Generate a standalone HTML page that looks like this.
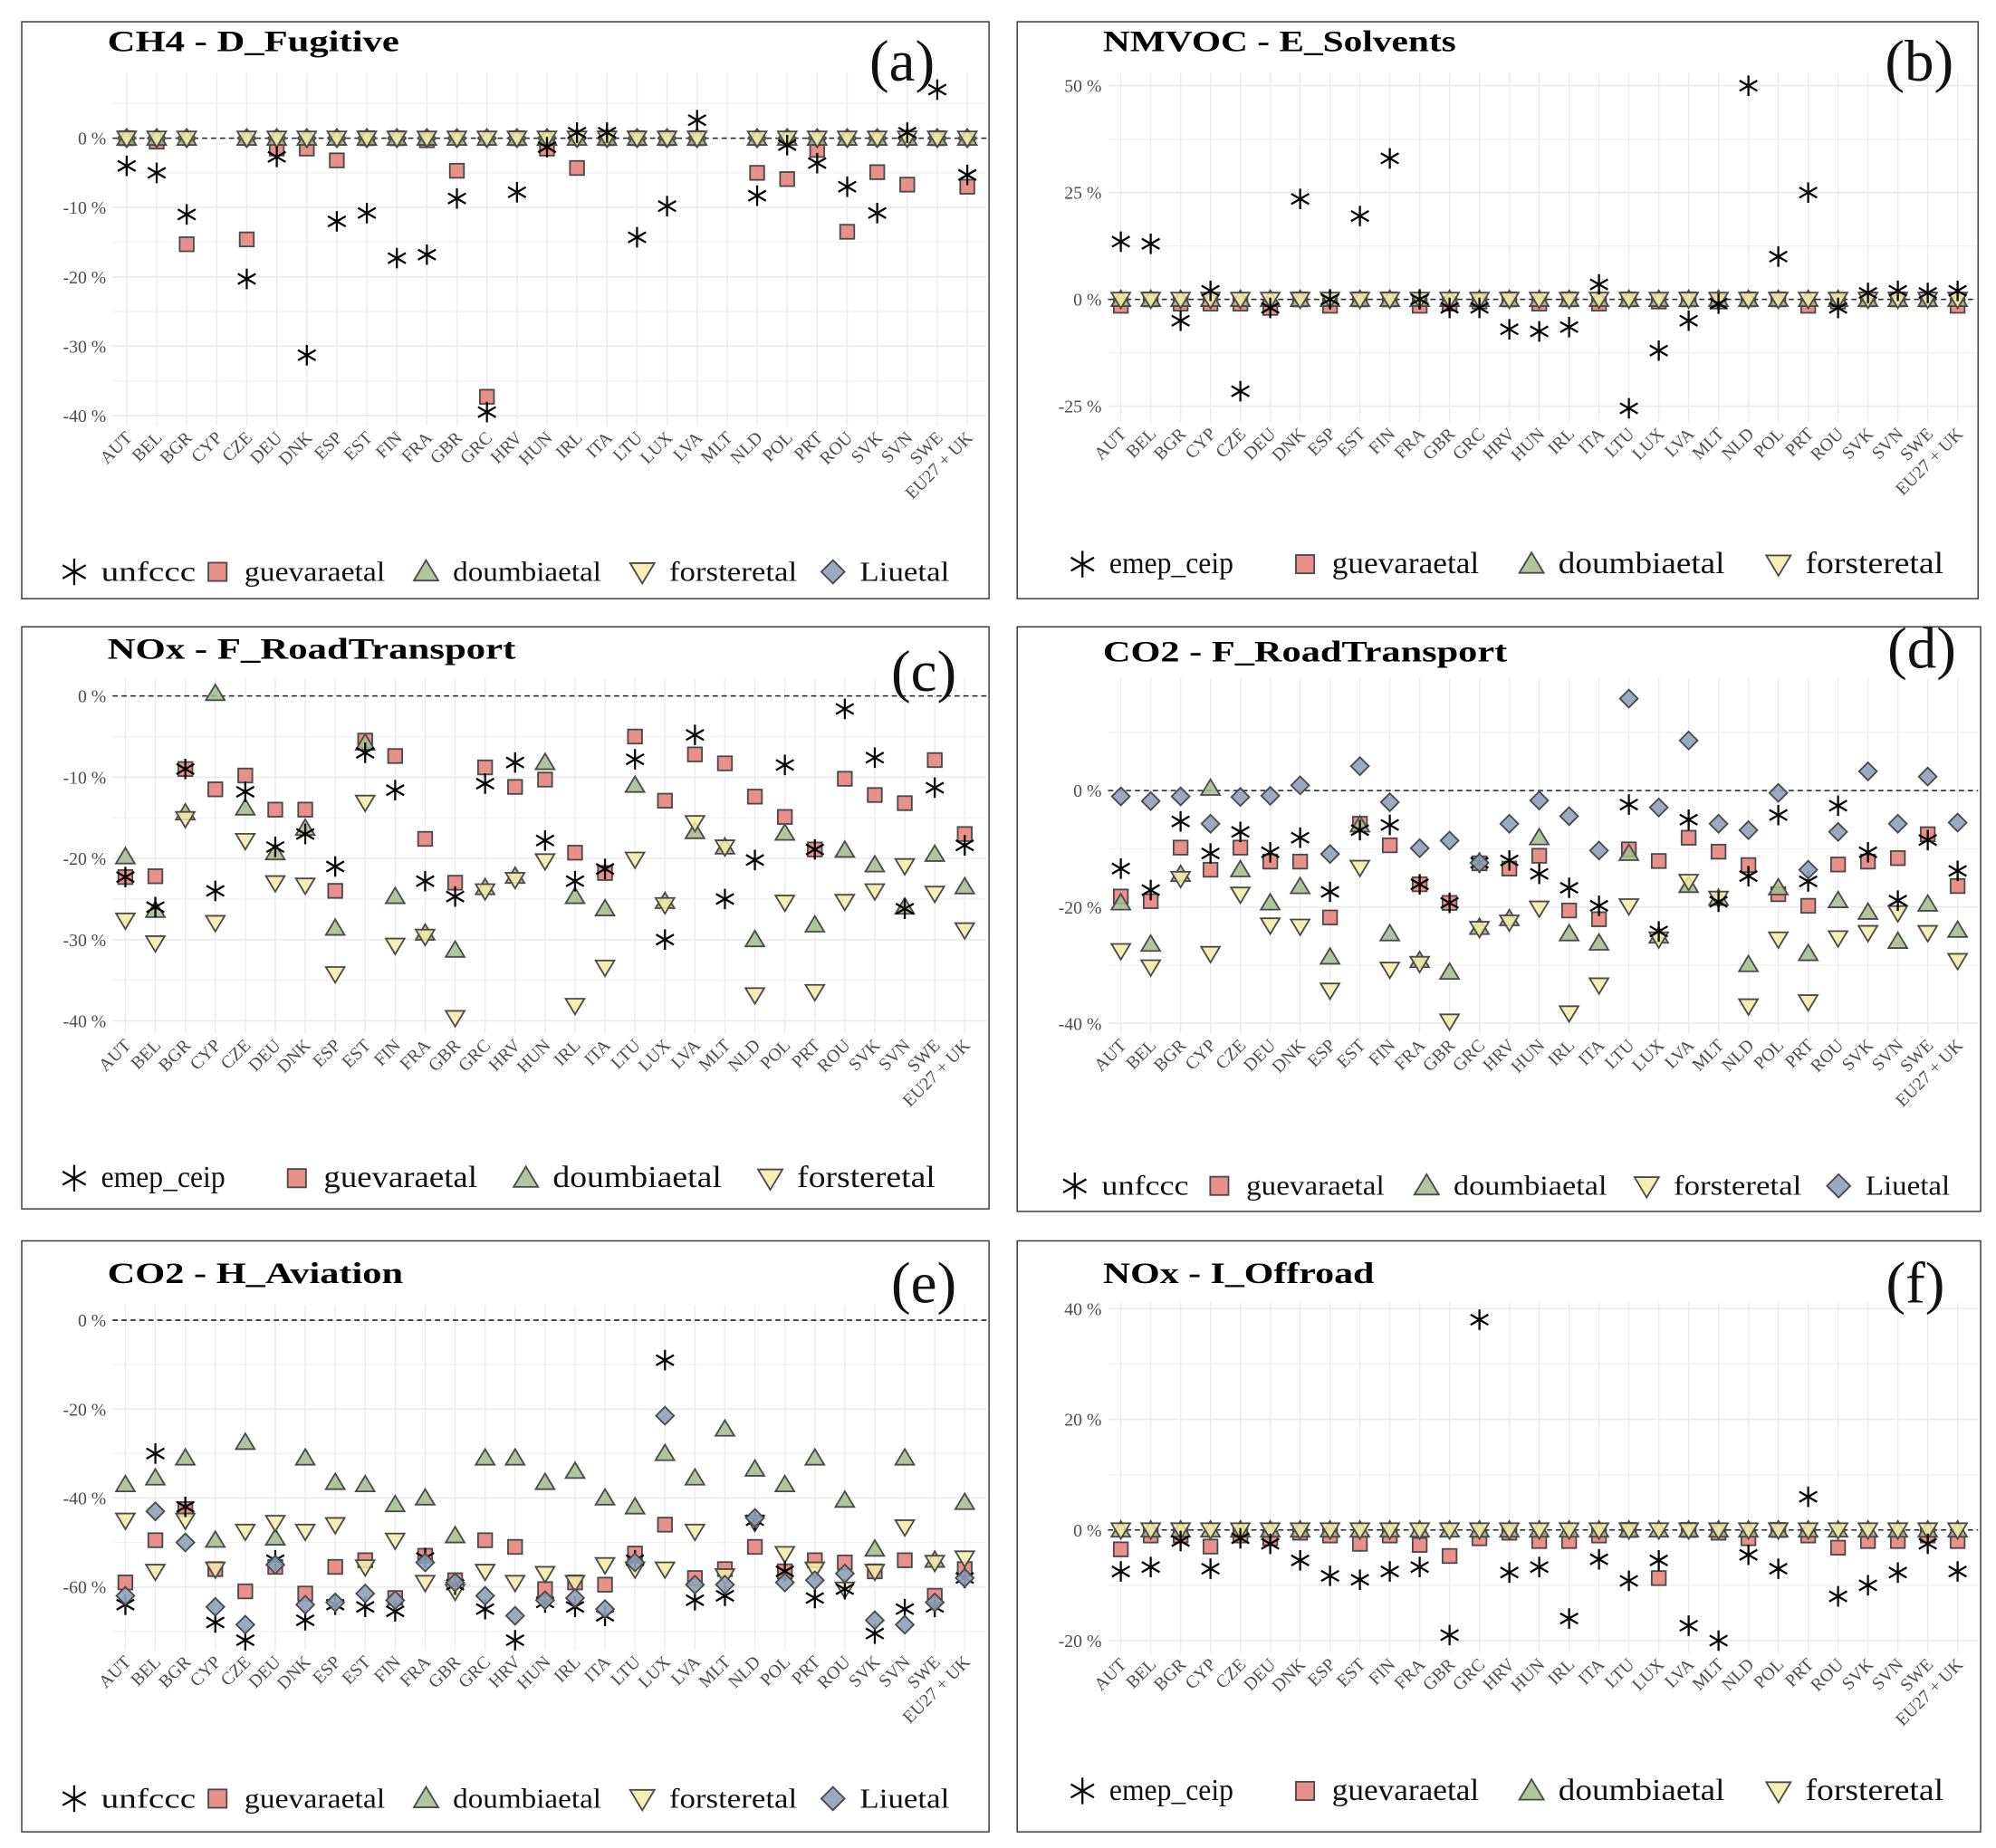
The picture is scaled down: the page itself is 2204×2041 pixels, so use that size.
<!DOCTYPE html>
<html><head><meta charset="utf-8"><style>
html,body{margin:0;padding:0;background:#fff;}
svg{display:block;}
text{font-family:"Liberation Serif",serif;}
</style></head>
<body>
<svg id="chart" xmlns="http://www.w3.org/2000/svg" width="2204" height="2041" viewBox="0 0 1560 1444.6">
<rect x="0" y="0" width="1560" height="1444.6" fill="#fff"/>
</svg>
<script>
const categories = ["AUT","BEL","BGR","CYP","CZE","DEU","DNK","ESP","EST","FIN","FRA","GBR","GRC","HRV","HUN","IRL","ITA","LTU","LUX","LVA","MLT","NLD","POL","PRT","ROU","SVK","SVN","SWE","EU27 + UK"];
const N = null;
// Panel (a) CH4 - D_Fugitive
const aStar = [-4,-5,-11,N,-20.3,-2.7,-31.3,-12,-10.8,-17.3,-16.8,-8.7,-39.5,-7.8,-1.3,0.8,0.8,-14.3,-9.8,2.6,N,-8.3,-1,-3.6,-7,-10.8,0.8,7,-5.3];
const aGuevara = [0,-0.5,-15.3,N,-14.6,-1.5,-1.5,-3.2,0,0,-0.3,-4.7,-37.3,0,-1.5,-4.3,0,0,0,0,N,-5,-5.9,-1.7,-13.5,-4.9,-6.7,0,-7];
const aDoumbia = [0,0,0,N,0,0,0,0,0,0,0,0,0,0,0,0,0,0,0,0,N,0,0,0,0,0,0,0,0];
const aForster = [0,0,0,N,0,0,0,0,0,0,0,0,0,0,0,0,0,0,0,0,N,0,0,0,0,0,0,0,0];
const aLiu = [0,0,0,N,0,0,0,0,0,0,0,0,0,0,0,0,0,0,0,0,N,0,0,0,0,0,0,0,0];
const aTicks = [0,-10,-20,-30,-40];
// Panel (b) NMVOC - E_Solvents
const bStar = [13.5,13,-5,2,-21.5,-2,23.5,0,19.5,33,0,-2,-2,-7,-7.5,-6.5,3.5,-25.5,-12,-5,-1,50,10,25,-2,1.5,2,1.5,2];
const bGuevara = [-1.5,0,-1,-1,-1,-2,0,-1.5,0,0,-1.5,-1,-0.5,0,-1,0,-1,0,-0.5,0,-0.5,0,0,-1.5,-0.5,0,0,0,-1.5];
const bDoumbia = [0,0,0,0,0,0,0,0,0,0,0,0,0,0,0,0,0,0,0,0,0,0,0,0,0,0,0,0,0];
const bForster = [0,0,0,0,0,0,0,0,0,0,0,0,0,0,0,0,0,0,0,0,0,0,0,0,0,0,0,0,0];
const bTicks = [50,25,0,-25];
// Panel (c) NOx - F_RoadTransport
const cStar = [-22.3,-26,-9,-24,-11.8,-18.6,-17,-21,-7,-11.6,-22.8,-24.7,-10.8,-8.2,-17.8,-22.8,-21.3,-7.8,-30,-4.8,-25,-20.2,-8.5,-18.9,-1.6,-7.6,-26.2,-11.3,-18.4];
const cGuevara = [-22.3,-22.2,-9,-11.5,-9.8,-14,-14,-24,-5.5,-7.4,-17.6,-23,-8.8,-11.2,-10.3,-19.3,-21.8,-5,-12.9,-7.2,-8.3,-12.4,-14.9,-18.9,-10.2,-12.2,-13.2,-7.9,-17];
const cDoumbia = [-19.8,-26.4,-14.4,0.3,-13.8,-19.3,-16.3,-28.6,-5.8,-24.7,-29.2,-31.3,-23.6,-22.2,-8.2,-24.7,-26.2,-11,-25.3,-16.7,-18.6,-30,-16.9,-28.2,-19,-20.8,-26,-19.5,-23.5];
const cForster = [-27.6,-30.4,-15.1,-27.9,-17.8,-23,-23.3,-34.2,-13.1,-30.7,-29.6,-39.6,-24,-22.6,-20.3,-38.1,-33.4,-20.1,-25.7,-15.6,-18.6,-36.8,-25.4,-36.4,-25.3,-24,-20.9,-24.3,-28.8];
const cTicks = [0,-10,-20,-30,-40];
// Panel (d) CO2 - F_RoadTransport
const dStar = [-13.4,-17.1,-5.3,-10.8,-7.1,-10.6,-8.1,-17.4,-6.8,-5.9,-16.1,-19.3,-12.4,-12,-14.3,-16.7,-19.8,-2.4,-24.2,-5,-19.1,-14.7,-4.2,-15.6,-2.6,-10.6,-18.9,-8.5,-13.8];
const dGuevara = [-18.2,-19,-9.8,-13.6,-9.8,-12.2,-12.2,-21.8,-5.7,-9.4,-16.1,-19.3,-12.5,-13.4,-11.2,-20.6,-22.1,-10.1,-12.1,-8.1,-10.5,-12.8,-17.8,-19.8,-12.7,-12.2,-11.6,-7.5,-16.4];
const dDoumbia = [-19.3,-26.4,-14.4,0.4,-13.6,-19.3,-16.5,-28.6,-5.9,-24.6,-29.2,-31.2,-23.5,-22,-8.1,-24.6,-26.2,-10.8,-25,-16.3,-18.5,-29.9,-16.7,-28,-18.9,-20.9,-25.9,-19.5,-24];
const dForster = [-27.5,-30.3,-15.1,-28,-17.8,-23.1,-23.3,-34.3,-13.2,-30.7,-29.7,-39.6,-23.7,-22.6,-20.2,-38.2,-33.4,-19.8,-25.5,-15.6,-18.5,-37,-25.5,-36.3,-25.3,-24.4,-21,-24.4,-29.2];
const dLiu = [-1,-1.8,-1,-5.7,-1.1,-0.9,0.9,-10.9,4.2,-2,-9.9,-8.6,-12.4,-5.7,-1.7,-4.4,-10.3,15.8,-2.9,8.6,-5.7,-6.8,-0.4,-13.6,-7.1,3.3,-5.7,2.4,-5.5];
const dTicks = [0,-20,-40];
// Panel (e) CO2 - H_Aviation
const eStar = [-64,-30,-42,-68,-72,-54,-67.5,-64,-64.5,-65.5,-53.5,-59.5,-65,-72,-63.5,-64.5,-66.5,-54,-9,-63,-62,-45,-56.5,-62.5,-60.5,-70.5,-65,-64.5,-58];
const eGuevara = [-59,-49.5,-42.5,-56,-61,-55.5,-61.5,-55.5,-54,-62.5,-53,-58.5,-49.5,-51,-60.5,-59,-59.5,-52.5,-46,-58,-56,-51,-56.5,-54,-54.5,-56.5,-54,-62,-56];
const eDoumbia = [-37,-35.5,-31,-49.5,-27.5,-49,-31,-36.5,-37,-41.5,-40,-48.5,-31,-31,-36.5,-34,-40,-42,-30,-35.5,-24.5,-33.5,-37,-31,-40.5,-51.5,-31,-54,-41];
const eForster = [-45,-56.5,-45,-56,-47.5,-45.5,-47.5,-46,-55.5,-49.5,-59,-61,-56.5,-59,-57,-59,-55,-56,-56,-47.5,-57.5,-45.5,-52.5,-56,-60.5,-56.5,-46.5,-54.5,-53.5];
const eLiu = [-62,-43,-50,-64.5,-68.5,-55,-64,-63.5,-61.5,-63,-54.5,-59,-62,-66.5,-63,-62.5,-65,-54.5,-21.5,-59.5,-59.5,-44.5,-59,-58.5,-57,-67.5,-68.5,-63.5,-58];
const eTicks = [0,-20,-40,-60];
// Panel (f) NOx - I_Offroad
const fStar = [-7.5,-6.7,-2,-7,-1.5,-2.5,-5.5,-8.3,-9,-7.5,-6.7,-19,38,-7.7,-6.7,-16,-5.3,-9.2,-5.5,-17.3,-20,-4.5,-7,6,-12,-10,-7.7,-2.5,-7.5];
const fGuevara = [-3.5,-1,-1,-3,-1,-1.5,-0.5,-1,-2.5,-1,-2.7,-4.7,-1.5,-0.5,-2,-2,-1,0,-8.7,0,-0.5,-1.5,0,-1,-3.2,-2,-2,-1,-2];
const fDoumbia = [0,0,0,0,0,0,0,0,0,0,0,0,0,0,0,0,0,0,0,0,0,0,0,0,0,0,0,0,0];
const fForster = [0,0,0,0,0,0,0,0,0,0,0,0,0,0,0,0,0,0,0,0,0,0,0,0,0,0,0,0,0];
const fTicks = [40,20,0,-20];

const NS = "http://www.w3.org/2000/svg";
const svg = document.getElementById("chart");
const COL = {sq:"#e8847e", tri:"#a2bd8c", inv:"#f4eca6", dia:"#8ea2b9", stroke:"#4a4a4a"};

function mk(tag, attrs, parent){
  const e = document.createElementNS(NS, tag);
  for (const k in attrs) e.setAttribute(k, attrs[k]);
  parent.appendChild(e);
  return e;
}
function marker(kind, cx, cy, parent, s){
  s = s || 1;
  let e;
  if (kind === "star"){
    const r = 8*s, a = r*Math.cos(Math.PI/6), b = r*Math.sin(Math.PI/6);
    e = mk("path", {d:`M${cx},${cy-r}L${cx},${cy+r}M${cx-a},${cy-b}L${cx+a},${cy+b}M${cx-a},${cy+b}L${cx+a},${cy-b}`, stroke:"#000", "stroke-width":1.6, fill:"none"}, parent);
  } else if (kind === "sq"){
    const h = 5.5*s;
    e = mk("rect", {x:cx-h, y:cy-h, width:2*h, height:2*h, fill:COL.sq, stroke:COL.stroke, "stroke-width":1.3, "fill-opacity":0.9}, parent);
  } else if (kind === "tri"){
    const h = 7*s;
    e = mk("path", {d:`M${cx},${cy-h}L${cx+h*1.05},${cy+h*0.75}L${cx-h*1.05},${cy+h*0.75}Z`, fill:COL.tri, stroke:COL.stroke, "stroke-width":1.3, "fill-opacity":0.85}, parent);
  } else if (kind === "inv"){
    const h = 7*s;
    e = mk("path", {d:`M${cx},${cy+h}L${cx+h*1.05},${cy-h*0.75}L${cx-h*1.05},${cy-h*0.75}Z`, fill:COL.inv, stroke:COL.stroke, "stroke-width":1.3, "fill-opacity":0.85}, parent);
  } else {
    const h = 7*s;
    e = mk("path", {d:`M${cx},${cy-h}L${cx+h},${cy}L${cx},${cy+h}L${cx-h},${cy}Z`, fill:COL.dia, stroke:COL.stroke, "stroke-width":1.3, "fill-opacity":0.9}, parent);
  }
  return e;
}

function panel(cfg){
  const g = mk("g", {}, svg);
  
  
  const box = mk("rect", {x:cfg.bx, y:cfg.by, width:cfg.bw, height:cfg.bh, fill:"#fff", stroke:"#333", "stroke-width":1}, g);
  
  
  const step = (cfg.x1 - cfg.x0)/(categories.length-1);
  const xs = i => cfg.x0 + i*step;
  const ys = v => cfg.y0 - v*cfg.ppu;
  const minor = mk("g", {}, g);
  
  
  for (const t of cfg.minorTicks){
    const yy = ys(t);
    mk("line", {x1:cfg.pl, x2:cfg.pr, y1:yy, y2:yy, stroke:"#f2f2f2", "stroke-width":1}, minor);
  }
  for (let i=0;i<categories.length;i++){
    mk("line", {x1:xs(i), x2:xs(i), y1:cfg.gt, y2:cfg.gb, stroke:"#ebebeb", "stroke-width":1}, minor);
  }
  for (const t of cfg.ticks){
    const yy = ys(t);
    mk("line", {x1:cfg.pl, x2:cfg.pr, y1:yy, y2:yy, stroke:"#ebebeb", "stroke-width":1.2}, minor);
    const tl = mk("text", {x:cfg.pl-5, y:yy+5, "text-anchor":"end", "font-size":14, fill:"#4d4d4d"}, g);
    tl.textContent = t + " %";
    
    
  }
  const zl = mk("line", {x1:cfg.pl, x2:cfg.pr, y1:ys(0), y2:ys(0), stroke:"#222", "stroke-width":1.1, "stroke-dasharray":"4,3"}, g);
  
  
  categories.forEach((c,i)=>{
    const tx = xs(i)+5, ty = cfg.gb+10;
    const t = mk("text", {x:tx, y:ty, "text-anchor":"end", "font-size":14, fill:"#4d4d4d", transform:`rotate(-45 ${tx} ${ty})`}, g);
    t.textContent = c;
    
    
  });
  for (const s of cfg.series){
    const sg = mk("g", {}, g);
    
    
    s.data.forEach((v,i)=>{
      if (v === null) return;
      const m = marker(s.kind, xs(i), ys(v), sg);
      
      
    });
  }
  const title = mk("text", {x:cfg.tx, y:cfg.ty, "font-size":23, "font-weight":"bold", fill:"#000", textLength:cfg.tw, lengthAdjust:"spacingAndGlyphs"}, g);
  title.textContent = cfg.title;
  
  
  const lt = mk("text", {x:cfg.lx, y:cfg.ly, "font-size":46, "text-anchor":"middle", fill:"#111"}, g);
  lt.textContent = cfg.letter;
  
  
  const lg = mk("g", {}, g);
  
  
  cfg.legend.forEach(en=>{
    const eg = mk("g", {}, lg);
    
    
    marker(en[0], en[1], cfg.legY, eg, 1.3);
    const t = mk("text", {x:en[1]+21, y:cfg.legY+7, "font-size":cfg.legFs, fill:"#111", textLength:en[3], lengthAdjust:"spacingAndGlyphs"}, eg);
    t.textContent = en[2];
  });
}

const legA = [["star",58,"unfccc",74],["sq",170,"guevaraetal",110],["tri",333,"doumbiaetal",116],["inv",502,"forsteretal",100],["dia",651,"Liuetal",70]];
const legB = [["star",846,"emep_ceip",97],["sq",1020,"guevaraetal",115],["tri",1197,"doumbiaetal",130],["inv",1390,"forsteretal",108]];
const legC = [["star",58,"emep_ceip",97],["sq",232,"guevaraetal",120],["tri",411,"doumbiaetal",132],["inv",602,"forsteretal",108]];
const legD = [["star",840,"unfccc",68],["sq",953,"guevaraetal",108],["tri",1115,"doumbiaetal",120],["inv",1287,"forsteretal",100],["dia",1437,"Liuetal",66]];

panel({name:"panel-a-ch4-fugitive", bx:17,by:17,bw:756,bh:451, x0:99,x1:756, y0:108, ppu:5.42, pl:88,pr:771, gt:57,gb:333,
  ticks:aTicks, minorTicks:[5,-5,-15,-25,-35], title:"CH4 - D_Fugitive", tx:84,ty:40,tw:228, letter:"(a)", lx:705,ly:63,
  legY:447, legFs:22, legend:legA,
  series:[{name:"guevaraetal",kind:"sq",data:aGuevara},{name:"liuetal",kind:"dia",data:aLiu},{name:"doumbiaetal",kind:"tri",data:aDoumbia},{name:"forsteretal",kind:"inv",data:aForster},{name:"unfccc",kind:"star",data:aStar}]});
panel({name:"panel-b-nmvoc-solvents", bx:795,by:17,bw:751,bh:451, x0:876,x1:1530, y0:234, ppu:3.34, pl:866,pr:1545, gt:57,gb:330,
  ticks:bTicks, minorTicks:[37.5,12.5,-12.5], title:"NMVOC - E_Solvents", tx:862,ty:40,tw:276, letter:"(b)", lx:1500,ly:63,
  legY:441, legFs:24, legend:legB,
  series:[{name:"guevaraetal",kind:"sq",data:bGuevara},{name:"doumbiaetal",kind:"tri",data:bDoumbia},{name:"forsteretal",kind:"inv",data:bForster},{name:"emep-ceip",kind:"star",data:bStar}]});
panel({name:"panel-c-nox-roadtransport", bx:17,by:490,bw:756,bh:455, x0:98,x1:754, y0:544, ppu:6.35, pl:88,pr:771, gt:530,gb:808,
  ticks:cTicks, minorTicks:[-5,-15,-25,-35], title:"NOx - F_RoadTransport", tx:84,ty:515,tw:319, letter:"(c)", lx:722,ly:540,
  legY:921, legFs:24, legend:legC,
  series:[{name:"guevaraetal",kind:"sq",data:cGuevara},{name:"doumbiaetal",kind:"tri",data:cDoumbia},{name:"forsteretal",kind:"inv",data:cForster},{name:"emep-ceip",kind:"star",data:cStar}]});
panel({name:"panel-d-co2-roadtransport", bx:795,by:490,bw:753,bh:457, x0:876,x1:1530, y0:618, ppu:4.55, pl:866,pr:1546, gt:530,gb:808,
  ticks:dTicks, minorTicks:[10,-10,-30], title:"CO2 - F_RoadTransport", tx:862,ty:517,tw:316, letter:"(d)", lx:1502,ly:522,
  legY:927, legFs:22, legend:legD,
  series:[{name:"guevaraetal",kind:"sq",data:dGuevara},{name:"doumbiaetal",kind:"tri",data:dDoumbia},{name:"forsteretal",kind:"inv",data:dForster},{name:"unfccc",kind:"star",data:dStar},{name:"liuetal",kind:"dia",data:dLiu}]});
panel({name:"panel-e-co2-aviation", bx:17,by:970,bw:756,bh:462, x0:98,x1:754, y0:1032, ppu:3.475, pl:88,pr:771, gt:1020,gb:1290,
  ticks:eTicks, minorTicks:[-10,-30,-50,-70], title:"CO2 - H_Aviation", tx:84,ty:1003,tw:231, letter:"(e)", lx:722,ly:1018,
  legY:1406, legFs:22, legend:legA,
  series:[{name:"guevaraetal",kind:"sq",data:eGuevara},{name:"doumbiaetal",kind:"tri",data:eDoumbia},{name:"forsteretal",kind:"inv",data:eForster},{name:"unfccc",kind:"star",data:eStar},{name:"liuetal",kind:"dia",data:eLiu}]});
panel({name:"panel-f-nox-offroad", bx:795,by:970,bw:753,bh:462, x0:876,x1:1530, y0:1196, ppu:4.325, pl:866,pr:1546, gt:1018,gb:1292,
  ticks:fTicks, minorTicks:[30,10,-10], title:"NOx - I_Offroad", tx:862,ty:1003,tw:212, letter:"(f)", lx:1497,ly:1018,
  legY:1400, legFs:24, legend:legB,
  series:[{name:"guevaraetal",kind:"sq",data:fGuevara},{name:"doumbiaetal",kind:"tri",data:fDoumbia},{name:"forsteretal",kind:"inv",data:fForster},{name:"emep-ceip",kind:"star",data:fStar}]});
</script>
</body></html>
